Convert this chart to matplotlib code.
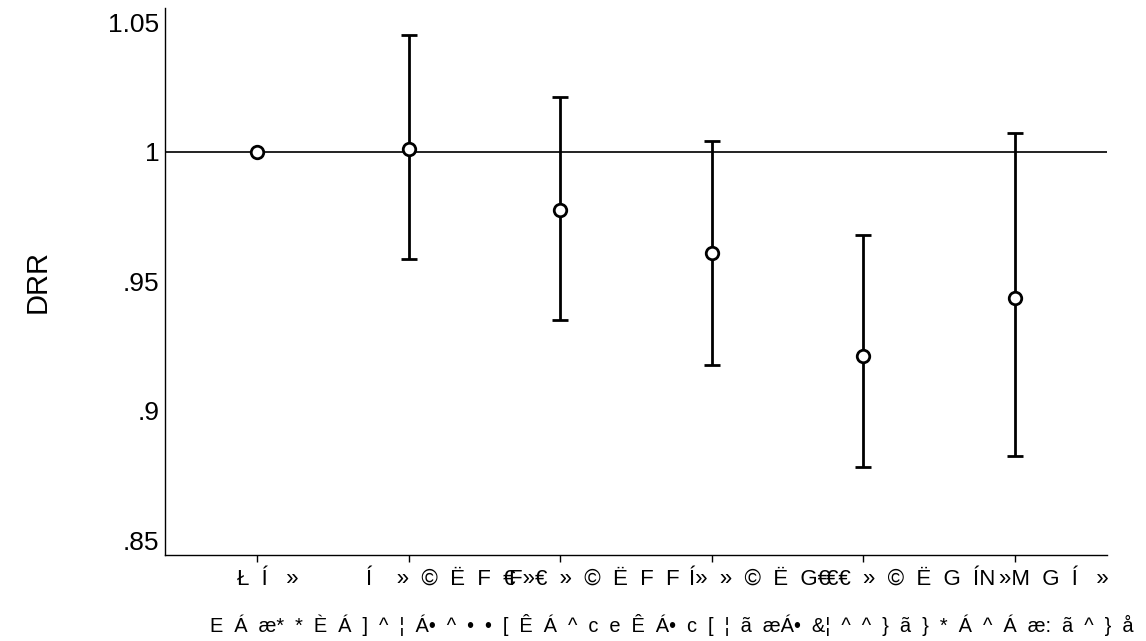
import matplotlib
matplotlib.use("Agg")
import matplotlib.pyplot as plt
import matplotlib.transforms as mtransforms

plt.rcParams['font.family'] = ['Liberation Sans', 'DejaVu Sans']

# data
positions = [1, 2, 3, 4, 5, 6]
estimates = [1.000, 1.001, 0.9776, 0.961, 0.9212, 0.9436]
ci_low = [1.000, 0.9587, 0.9351, 0.9175, 0.8784, 0.8826]
ci_high = [1.000, 1.045, 1.0212, 1.0042, 0.968, 1.0073]
tick_labels = ["Ł  Í   »",
               "Í    »  ©  Ë  F  €",
               "F»€  »  ©  Ë  F  F",
               "Í»  »  ©  Ë  G€",
               "€€  »  ©  Ë  G  ÍN",
               "»M  G  Í   »"]
yticks = [0.85, 0.9, 0.95, 1.0, 1.05]
ytick_labels = [".85", ".9", ".95", "1", "1.05"]
xlabel_text = ("E  Á  æ*  *  È  Á  ]  ^  ¦  Á•  ^  •  •  [  Ê  Á  ^  c  e  Ê  Á•  c  [  ¦  ã  "
               "æÁ•  &¦  ^  ^  }  ã  }  *  Á  ^  Á  æ:  ã  ^  }  å")
ylabel_text = "DRR"

fig = plt.figure(figsize=(11.46, 6.41), dpi=100)
ax = fig.add_axes([0.144, 0.134, 0.822, 0.853])

ax.axhline(1.0, color='#222222', lw=1.4, zorder=1)

err_lo = [e - l for e, l in zip(estimates, ci_low)]
err_hi = [h - e for e, h in zip(estimates, ci_high)]
ax.errorbar(positions[1:], estimates[1:], yerr=[err_lo[1:], err_hi[1:]],
            fmt='none', ecolor='black', elinewidth=2, capsize=6, capthick=2, zorder=2)
ax.plot(positions, estimates, 'o', ms=9, mfc='white', mec='black', mew=2, zorder=3)

ax.set_xlim(0.393, 6.607)
ax.set_ylim(0.8442, 1.0554)
ax.set_yticks(yticks)
ax.set_yticklabels(ytick_labels, fontsize=19)
ax.set_xticks(positions)
ax.set_xticklabels(tick_labels, fontsize=16)
ax.tick_params(axis='y', length=0, pad=4)
ax.tick_params(axis='x', length=5, width=1, pad=5)

for s in ['top', 'right']:
    ax.spines[s].set_visible(False)
ax.spines['left'].set_linewidth(1)
ax.spines['bottom'].set_linewidth(1)

ax.set_ylabel(ylabel_text, fontsize=21)
ax.yaxis.set_label_coords(-0.12, 0.5)
fig.text(0.183, 0.025, xlabel_text, fontsize=14.4, ha='left', va='center')

# the reference's tick labels run into each other; slide each one so its
# left edge sits where the reference's glyphs start
fig.canvas.draw()
left_edges = [237, 366, 509, 689, 826, 999]
for lab, x0 in zip(ax.get_xticklabels(), left_edges):
    bb = lab.get_window_extent()
    dx = (x0 - bb.x0) / fig.dpi
    lab.set_transform(lab.get_transform() +
                      mtransforms.ScaledTranslation(dx, 0, fig.dpi_scale_trans))

fig.savefig("out.png", dpi=100)
